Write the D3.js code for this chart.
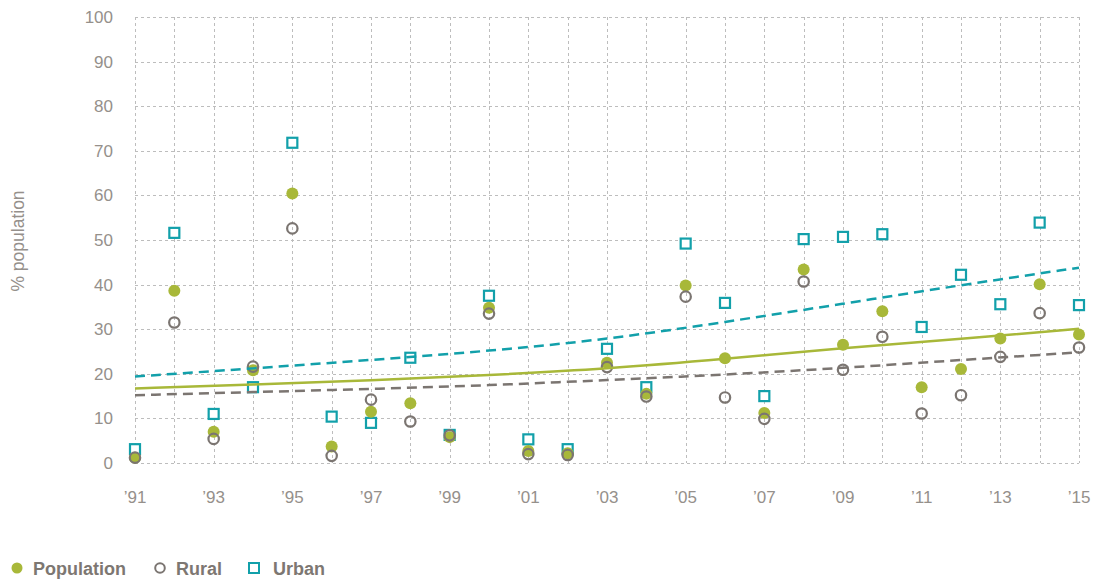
<!DOCTYPE html>
<html>
<head>
<meta charset="utf-8">
<script src="https://cdn.jsdelivr.net/npm/d3@7"></script>
<style>
  body { margin: 0; background: #fff; }
  svg { display: block; font-family: "Liberation Sans", Arial, sans-serif; }
</style>
</head>
<body>
<svg></svg>
<script>
const years = d3.range(1991, 2016);
const population = [1.2, 38.6, 7.0, 20.8, 60.4, 3.7, 11.5, 13.4, 5.8, 34.8, 2.7, 2.2, 22.5, 15.5, 39.8, 23.5, 11.2, 43.4, 26.5, 34.0, 17.0, 21.1, 27.9, 40.1, 28.8];
const rural =      [1.2, 31.5, 5.4, 21.6, 52.6, 1.6, 14.2, 9.3, 6.2, 33.5, 2.0, 1.8, 21.5, 14.9, 37.3, 14.7, 9.9, 40.7, 20.9, 28.3, 11.1, 15.2, 23.8, 33.6, 25.9];
const urban =      [3.1, 51.6, 11.0, 17.0, 71.8, 10.4, 9.0, 23.6, 6.3, 37.5, 5.3, 3.1, 25.6, 17.0, 49.2, 35.9, 15.0, 50.2, 50.7, 51.3, 30.5, 42.2, 35.6, 53.9, 35.4];
// trend line values every three years
const trendYears = [1991, 1994, 1997, 2000, 2003, 2006, 2009, 2012, 2015];
const trendPopulation = [16.7, 17.6, 18.5, 19.7, 21.1, 23.3, 25.8, 27.8, 30.1];
const trendRural =      [15.2, 15.9, 16.6, 17.4, 18.6, 19.8, 21.3, 23.1, 24.8];
const trendUrban =      [19.4, 21.2, 23.1, 25.1, 27.7, 31.6, 35.7, 39.9, 43.8];
const yTicks = d3.range(0, 101, 10);
const xTickYears = d3.range(1991, 2016, 2);

const width = 1107, height = 580;
const margin = {left: 135, right: 28, top: 17, bottom: 117};
const green = "#a8b839", gray = "#7b7571", teal = "#12a0aa", textGray = "#95908b";

const svg = d3.select("svg").attr("width", width).attr("height", height);

const x = d3.scaleLinear().domain([1991, 2015]).range([margin.left, width - margin.right]);
const y = d3.scaleLinear().domain([0, 100]).range([height - margin.bottom, margin.top]);

// grid
const grid = svg.append("g").attr("stroke", "#bdbdbd").attr("stroke-dasharray", "3,3").attr("stroke-width", 1);
grid.selectAll("line.v").data(years).enter().append("line")
    .attr("x1", d => Math.round(x(d)) + 0.5).attr("x2", d => Math.round(x(d)) + 0.5)
    .attr("y1", y(100)).attr("y2", y(0));
grid.selectAll("line.h").data(yTicks).enter().append("line")
    .attr("x1", x(1991)).attr("x2", x(2015))
    .attr("y1", d => Math.round(y(d)) + 0.5).attr("y2", d => Math.round(y(d)) + 0.5);

// axes labels
svg.append("g").selectAll("text").data(yTicks).enter().append("text")
    .attr("x", 113).attr("y", d => y(d) + 6)
    .attr("text-anchor", "end").attr("font-size", 17).attr("fill", textGray)
    .text(d => d);
svg.append("g").selectAll("text").data(xTickYears).enter().append("text")
    .attr("x", d => x(d)).attr("y", 503)
    .attr("text-anchor", "middle").attr("font-size", 17).attr("fill", textGray)
    .text(d => "\u2019" + String(d).slice(2));
svg.append("text")
    .attr("transform", "translate(24,241) rotate(-90)")
    .attr("text-anchor", "middle").attr("font-size", 17.5).attr("fill", textGray)
    .text("% population");

// points
const pts = svg.append("g");
pts.selectAll("rect").data(urban).enter().append("rect")
    .attr("x", (d, i) => x(years[i]) - 5).attr("y", d => y(d) - 5)
    .attr("width", 10).attr("height", 10)
    .attr("fill", "#fff").attr("stroke", teal).attr("stroke-width", 2.2);
pts.selectAll("circle.pop").data(population).enter().append("circle")
    .attr("cx", (d, i) => x(years[i])).attr("cy", d => y(d)).attr("r", 6)
    .attr("fill", green);
pts.selectAll("circle.rural").data(rural).enter().append("circle")
    .attr("cx", (d, i) => x(years[i])).attr("cy", d => y(d)).attr("r", 5.2)
    .attr("fill", "none").attr("stroke", gray).attr("stroke-width", 2.2);

// trend curves
const line = d3.line().x((d, i) => x(trendYears[i])).y(d => y(d)).curve(d3.curveBasis);
svg.append("path").attr("d", line(trendRural))
    .attr("fill", "none").attr("stroke", gray).attr("stroke-width", 2.5).attr("stroke-dasharray", "10,6");
svg.append("path").attr("d", line(trendUrban))
    .attr("fill", "none").attr("stroke", teal).attr("stroke-width", 2.5).attr("stroke-dasharray", "10,6");
svg.append("path").attr("d", line(trendPopulation))
    .attr("fill", "none").attr("stroke", green).attr("stroke-width", 2.5);

// legend
const legend = svg.append("g").attr("font-size", 18).attr("font-weight", "bold").attr("fill", "#7d7772");
legend.append("circle").attr("cx", 17).attr("cy", 568).attr("r", 5.5).attr("fill", green);
legend.append("text").attr("x", 33).attr("y", 574.5).text("Population");
legend.append("circle").attr("cx", 160).attr("cy", 568).attr("r", 4.8).attr("fill", "none").attr("stroke", gray).attr("stroke-width", 2);
legend.append("text").attr("x", 176).attr("y", 574.5).text("Rural");
legend.append("rect").attr("x", 249).attr("y", 563).attr("width", 10).attr("height", 10).attr("fill", "none").attr("stroke", teal).attr("stroke-width", 2);
legend.append("text").attr("x", 273).attr("y", 574.5).text("Urban");
</script>
</body>
</html>
